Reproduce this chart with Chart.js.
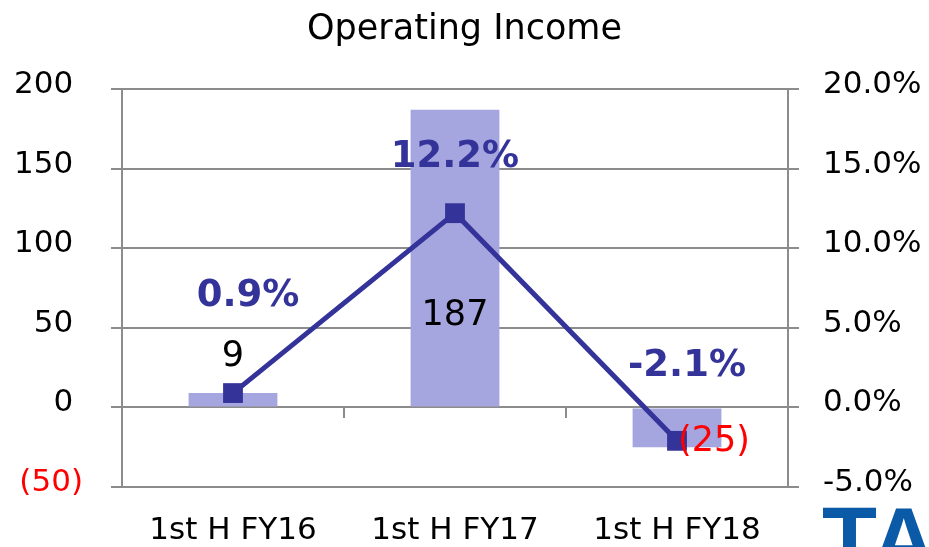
<!DOCTYPE html>
<html><head><meta charset="utf-8">
<script src="https://cdn.jsdelivr.net/npm/chart.js@4.4.1/dist/chart.umd.min.js"></script>
<style>
html,body{margin:0;padding:0;width:929px;height:547px;overflow:hidden;background:#fff}
#wrap{position:relative;width:929px;height:547px;overflow:hidden}
#c{position:absolute;left:0;top:0}
#logo{position:absolute;left:822px;top:495px;font:bold 90px "Liberation Sans",Arial,sans-serif;color:#0a5aa8;line-height:1;letter-spacing:1px;white-space:nowrap}
</style></head><body>
<div id="wrap"><canvas id="c" width="929" height="547"></canvas><div id="logo">TA</div></div>
<script>
// ---- data ----
const categories = ['1st H FY16', '1st H FY17', '1st H FY18'];
const incomeValues = [9, 187, -25];
const marginValues = [0.9, 12.2, -2.1];
const leftTickValues = [-50, 0, 50, 100, 150, 200];
const rightTickValues = [-5, 0, 5, 10, 15, 20];
const chartTitle = 'Operating Income';

// ---- label placement (pixel offsets from the element) ----
const barLabelOffsets = [[0, -36], [0, 206], [37, -5]];
const pctLabelOffsets = [[15, -97], [0, -56], [10, -74]];

const FONT = '"DejaVu Sans", Verdana, sans-serif';
const GRID = '#8c8c8c';
const fmtIncome = v => v < 0 ? '(' + Math.abs(v) + ')' : String(v);
const fmtPct = v => v.toFixed(1) + '%';

const labelPlugin = {
  id: 'valueLabels',
  afterDatasetsDraw(chart) {
    const ctx = chart.ctx;
    const barMeta = chart.getDatasetMeta(1);
    const lineMeta = chart.getDatasetMeta(0);
    ctx.save();
    ctx.textAlign = 'center';
    ctx.textBaseline = 'middle';
    barMeta.data.forEach((el, i) => {
      const v = incomeValues[i];
      ctx.font = '35px ' + FONT;
      ctx.fillStyle = v < 0 ? '#ff0000' : '#000000';
      ctx.fillText(fmtIncome(v), el.x + barLabelOffsets[i][0], el.y + barLabelOffsets[i][1]);
    });
    lineMeta.data.forEach((el, i) => {
      ctx.font = 'bold 37px ' + FONT;
      ctx.fillStyle = '#333399';
      ctx.fillText(fmtPct(marginValues[i]), el.x + pctLabelOffsets[i][0], el.y + pctLabelOffsets[i][1]);
    });
    ctx.restore();
  }
};

new Chart(document.getElementById('c'), {
  data: {
    labels: categories,
    datasets: [
      {
        type: 'line', label: 'Operating margin', data: marginValues,
        xAxisID: 'x', yAxisID: 'y1', order: 1,
        borderColor: '#333399', backgroundColor: '#333399', borderWidth: 5,
        pointStyle: 'rect', pointRadius: 14, pointHoverRadius: 14,
        pointBackgroundColor: '#333399', pointBorderWidth: 0, tension: 0
      },
      {
        type: 'bar', label: 'Operating income', data: incomeValues,
        xAxisID: 'x', yAxisID: 'y', order: 2,
        backgroundColor: '#a5a5e0', borderWidth: 0,
        barPercentage: 0.4, categoryPercentage: 1.0
      }
    ]
  },
  options: {
    responsive: false, animation: false, devicePixelRatio: 1,
    layout: { padding: 0 },
    plugins: {
      legend: { display: false },
      tooltip: { enabled: false },
      title: {
        display: true, text: chartTitle, color: '#000',
        font: { family: FONT, size: 35, weight: 'normal' },
        padding: { top: 9, bottom: 38 }
      }
    },
    scales: {
      x: {
        type: 'category', position: 'bottom', offset: true,
        grid: { display: false, drawTicks: false },
        border: { display: false },
        ticks: { color: '#000', font: { family: FONT, size: 31 }, padding: 25, maxRotation: 0, autoSkip: false },
        afterFit: s => { s.height = 60; }
      },
      x2: {
        type: 'category', axis: 'x', labels: categories, position: { y: 0 }, offset: true,
        grid: { offset: true, drawOnChartArea: false, drawTicks: true, tickLength: 10, color: GRID, lineWidth: 2 },
        border: { display: true, color: GRID, width: 2 },
        ticks: { display: false },
        afterFit: s => { s.height = 0; }
      },
      y: {
        type: 'linear', position: 'left', min: -50, max: 200,
        afterBuildTicks: s => { s.ticks = leftTickValues.map(v => ({ value: v })); },
        grid: { color: GRID, lineWidth: 2, tickLength: 11, drawTicks: true },
        border: { display: true, color: GRID, width: 2 },
        ticks: {
          font: { family: FONT, size: 31 }, padding: 28, labelOffset: -4,
          color: c => (c.tick && c.tick.value < 0) ? '#ff0000' : '#000000',
          callback: v => v < 0 ? '(' + Math.abs(v) + ')' : v + ' '
        },
        afterFit: s => { s.width = 122; }
      },
      y1: {
        type: 'linear', position: 'right', min: -5, max: 20,
        afterBuildTicks: s => { s.ticks = rightTickValues.map(v => ({ value: v })); },
        grid: { drawOnChartArea: false, color: GRID, lineWidth: 2, tickLength: 11, drawTicks: true },
        border: { display: true, color: GRID, width: 2 },
        ticks: { font: { family: FONT, size: 31 }, color: '#000', padding: 24, labelOffset: -4, callback: v => fmtPct(v) },
        afterFit: s => { s.width = 141; }
      }
    }
  },
  plugins: [labelPlugin]
});
</script>
</body></html>
